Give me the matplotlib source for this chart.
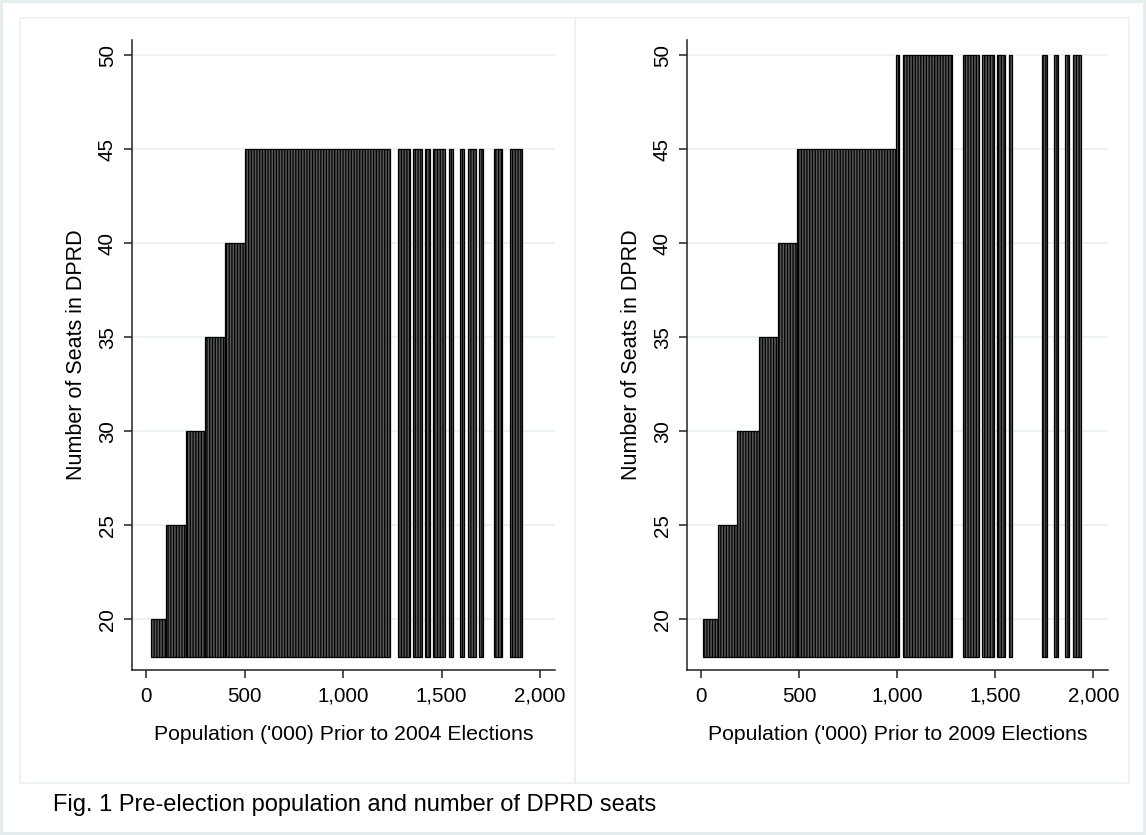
import matplotlib.pyplot as plt
from matplotlib.patches import Rectangle
from matplotlib.ticker import FuncFormatter

plt.rcParams['font.family'] = ['Liberation Sans', 'DejaVu Sans']
plt.rcParams['hatch.linewidth'] = 0.9

# population ranges ('000) covered by the district bars, and the seats they get
pop_start_2004 = [25, 102, 201, 300, 400, 500, 1280, 1357, 1415, 1457, 1537, 1591, 1632, 1691, 1768, 1849]
pop_end_2004 = [102, 201, 300, 400, 500, 1238, 1339, 1398, 1440, 1517, 1556, 1615, 1672, 1712, 1807, 1906]
seats_2004 = [20, 25, 30, 35, 40, 45, 45, 45, 45, 45, 45, 45, 45, 45, 45, 45]

pop_start_2009 = [10, 88, 183, 295, 395, 490, 995, 1028, 1337, 1435, 1511, 1569, 1741, 1798, 1856, 1897]
pop_end_2009 = [88, 183, 295, 395, 490, 995, 1011, 1279, 1415, 1493, 1551, 1588, 1763, 1820, 1876, 1936]
seats_2009 = [20, 25, 30, 35, 40, 45, 50, 50, 50, 50, 50, 50, 50, 50, 50, 50]

base = 18
x_ticks = [0, 500, 1000, 1500, 2000]
y_ticks = [20, 25, 30, 35, 40, 45, 50]

W, H = 1146, 835
fig = plt.figure(figsize=(W / 100, H / 100), dpi=100)
fig.patch.set_facecolor('white')


def px_rect(x0, y0, x1, y1, color, lw=1.2):
    fig.add_artist(Rectangle((x0 / W, 1 - y1 / H), (x1 - x0) / W, (y1 - y0) / H,
                             transform=fig.transFigure, fill=False,
                             edgecolor=color, lw=lw))


# outer frame and the two graph boxes
px_rect(1, 1, 1144, 833, '#e3ecee', 2)
px_rect(20, 18, 575, 783, '#eaf1f3', 1.2)
px_rect(575, 18, 1129, 783, '#eaf1f3', 1.2)


def panel(rect, starts, ends, seats, xlabel):
    ax = fig.add_axes(rect)
    widths = [e - s for s, e in zip(starts, ends)]
    heights = [s - base for s in seats]
    ax.bar(starts, heights, width=widths, bottom=base, align='edge',
           color='#585858', edgecolor='black', linewidth=0.9, hatch='||||||', zorder=2)
    ax.set_xlim(-71, 2075)
    ax.set_ylim(17.3, 50.8)
    ax.set_xticks(x_ticks)
    ax.set_yticks(y_ticks)
    ax.xaxis.set_major_formatter(FuncFormatter(lambda v, p: f'{int(v):,}'))
    ax.grid(axis='y', color='#e9f1f3', lw=1.2, zorder=0)
    ax.spines['top'].set_visible(False)
    ax.spines['right'].set_visible(False)
    for s in ['left', 'bottom']:
        ax.spines[s].set_color('#222222')
        ax.spines[s].set_linewidth(1.1)
    ax.tick_params(axis='both', length=6, width=1.1, color='#222222', labelsize=14.8)
    ax.tick_params(axis='x', pad=6)
    ax.tick_params(axis='y', pad=5)
    for lab in ax.get_yticklabels():
        lab.set_rotation(90)
        lab.set_va('center')
    ax.set_xlabel(xlabel, fontsize=15.3, labelpad=14)
    ax.set_ylabel('Number of Seats in DPRD', fontsize=15.5, labelpad=8)
    return ax


panel([132 / W, 1 - 670 / H, 423 / W, 630 / H], pop_start_2004, pop_end_2004, seats_2004,
      "Population ('000) Prior to 2004 Elections")
panel([687 / W, 1 - 670 / H, 421 / W, 630 / H], pop_start_2009, pop_end_2009, seats_2009,
      "Population ('000) Prior to 2009 Elections")

fig.text(53 / W, 1 - 805 / H, 'Fig. 1 Pre-election population and number of DPRD seats',
         fontsize=17, ha='left', va='center')

fig.savefig('out.png', dpi=100)
